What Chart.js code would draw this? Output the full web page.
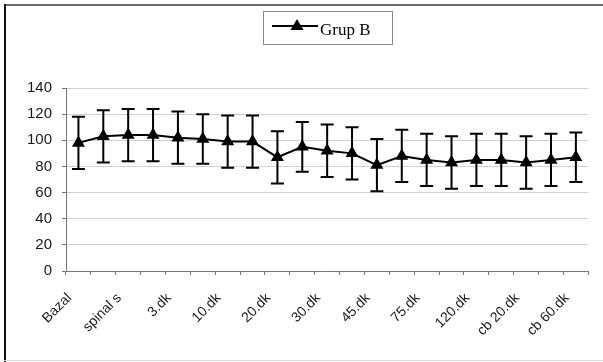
<!DOCTYPE html>
<html>
<head>
<meta charset="utf-8">
<script src="https://cdn.jsdelivr.net/npm/chart.js@4"></script>
<style>
  html, body { margin: 0; padding: 0; background: #fff; }
  #wrap { width: 603px; height: 362px; }
</style>
</head>
<body>
<div id="wrap"><canvas id="grafik"></canvas></div>
<script>
// zaman noktaları (etiketsiz olanlar boş bırakıldı)
var kategoriler = ['Bazal', '', 'spinal s', '', '3.dk', '', '10.dk', '', '20.dk', '', '30.dk',
  '', '45.dk', '', '75.dk', '', '120.dk', '', 'cb 20.dk', '', 'cb 60.dk'];
var grupB = [98, 103, 104, 104, 102, 101, 99, 99, 87, 95, 92, 90, 81, 88, 85, 83, 85, 85, 83, 85, 87];
var grupB_sd = [20, 20, 20, 20, 20, 19, 20, 20, 20, 19, 20, 20, 20, 20, 20, 20, 20, 20, 20, 20, 19];
var yTikler = [0, 20, 40, 60, 80, 100, 120, 140];

// çerçeve
var cerceve = {
  id: 'cerceve',
  beforeDraw: function(chart) {
    var c = chart.ctx;
    c.save();
    c.fillStyle = '#fff';
    c.fillRect(0, 0, chart.width, chart.height);
    c.fillStyle = '#6e6e6e';
    c.fillRect(4, 4, chart.width - 4, 2);
    c.fillStyle = '#111';
    c.fillRect(4, 4, 2, chart.height - 4);
    c.fillStyle = '#dcdcdc';
    c.fillRect(4, 360, chart.width - 4, 1);
    c.restore();
  }
};

// standart sapma çubukları
var hataCubuklari = {
  id: 'hataCubuklari',
  afterDatasetsDraw: function(chart) {
    var c = chart.ctx;
    var x = chart.scales.x, y = chart.scales.y;
    c.save();
    c.strokeStyle = '#000';
    c.lineWidth = 2;
    grupB.forEach(function(v, i) {
      var px = x.getPixelForValue(i);
      var ust = y.getPixelForValue(v + grupB_sd[i]);
      var alt = y.getPixelForValue(v - grupB_sd[i]);
      c.beginPath();
      c.moveTo(px, ust); c.lineTo(px, alt);
      c.moveTo(px - 6.5, ust); c.lineTo(px + 6.5, ust);
      c.moveTo(px - 6.5, alt); c.lineTo(px + 6.5, alt);
      c.stroke();
    });
    c.restore();
  }
};

// lejant kutusu
var lejant = {
  id: 'lejant',
  afterDraw: function(chart) {
    var c = chart.ctx;
    c.save();
    c.strokeStyle = '#8a8a8a';
    c.lineWidth = 1;
    c.strokeRect(263.5, 11.5, 129, 33);
    c.strokeStyle = '#000';
    c.lineWidth = 2;
    c.beginPath();
    c.moveTo(272, 26); c.lineTo(318, 26);
    c.stroke();
    c.fillStyle = '#000';
    c.beginPath();
    c.moveTo(297, 19); c.lineTo(303.5, 30); c.lineTo(290.5, 30);
    c.closePath();
    c.fill();
    c.font = '17px "Liberation Serif", serif';
    c.textBaseline = 'alphabetic';
    c.fillText(chart.data.datasets[0].label, 320, 35);
    c.restore();
  }
};

var ctx = document.getElementById('grafik').getContext('2d');
var grafik = new Chart(ctx, {
  type: 'line',
  data: {
    labels: kategoriler,
    datasets: [{
      label: 'Grup B',
      data: grupB,
      borderColor: '#000',
      backgroundColor: '#000',
      borderWidth: 2,
      pointStyle: 'triangle',
      pointRadius: 7.5,
      pointBorderWidth: 0,
      pointBackgroundColor: '#000',
      tension: 0
    }]
  },
  options: {
    responsive: true,
    maintainAspectRatio: false,
    animation: false,
    layout: { padding: { left: 0, right: 10, top: 88, bottom: 0 } },
    plugins: {
      legend: { display: false },
      tooltip: { enabled: false }
    },
    scales: {
      x: {
        offset: true,
        grid: {
          offset: true,
          drawOnChartArea: false,
          tickLength: 4,
          tickColor: '#777'
        },
        border: { color: '#777', width: 1 },
        ticks: {
          autoSkip: false,
          minRotation: 45,
          maxRotation: 45,
          padding: 15,
          labelOffset: -9,
          color: '#1a1a1a',
          font: { family: '"Liberation Sans", Arial, sans-serif', size: 14 }
        },
        afterFit: function(s) { s.height = 91; }
      },
      y: {
        min: 0,
        max: 140,
        afterBuildTicks: function(s) { s.ticks = yTikler.map(function(v) { return { value: v }; }); },
        grid: {
          color: '#d0d0d0',
          tickLength: 4,
          tickColor: '#777'
        },
        border: { color: '#777', width: 1 },
        ticks: {
          padding: 10,
          color: '#1a1a1a',
          font: { family: '"Liberation Sans", Arial, sans-serif', size: 15 }
        },
        afterFit: function(s) { s.width = 66; }
      }
    }
  },
  plugins: [cerceve, hataCubuklari, lejant]
});
</script>
</body>
</html>
